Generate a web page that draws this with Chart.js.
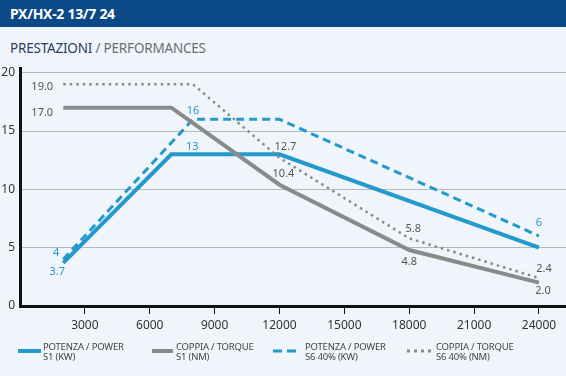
<!DOCTYPE html>
<html lang="it">
<head>
  <meta charset="UTF-8">
  <title>PX/HX-2 13/7 24</title>
  <script src="https://cdn.jsdelivr.net/npm/chart.js"></script>
  <style>
    body { margin: 0; width: 566px; height: 376px; background: #f0f5fb; font-family: "Noto Sans", sans-serif; position: relative; overflow: hidden; }
    #header { position: absolute; left: 0; top: 0; width: 566px; height: 27px; background: #0b4a86; color: #fff; font-weight: bold; font-size: 14px; line-height: 27px; padding-left: 10px; box-sizing: border-box; letter-spacing: -0.3px; }
    #sub { position: absolute; left: 10px; top: 39px; font-size: 13.5px; color: #2a3f5f; letter-spacing: -0.2px; }
    #sub span { color: #6b6e72; }
    #wrap { position: absolute; left: 0; top: 0; width: 566px; height: 376px; }
    .leg { position: absolute; top: 342px; font-size: 9.5px; line-height: 10px; color: #444; letter-spacing: -0.2px; }
    .leg svg { position: absolute; top: 6px; }
  </style>
</head>
<body>
  <div id="header">PX/HX-2 13/7 24</div>
  <div id="sub">PRESTAZIONI <span>/ PERFORMANCES</span></div>
  <div id="wrap"><canvas id="chart" width="566" height="376"></canvas></div>

  <div class="leg" style="left:18px"><svg width="23" height="6" style="left:0"><line x1="0" y1="3" x2="23" y2="3" stroke="#2399cc" stroke-width="4"/></svg><div style="margin-left:25px">POTENZA / POWER<br>S1 (KW)</div></div>
  <div class="leg" style="left:152px"><svg width="21" height="6" style="left:0"><line x1="0" y1="3" x2="21" y2="3" stroke="#8a8a8a" stroke-width="4"/></svg><div style="margin-left:24px">COPPIA / TORQUE<br>S1 (NM)</div></div>
  <div class="leg" style="left:273px"><svg width="23" height="6" style="left:0"><line x1="0" y1="3" x2="23" y2="3" stroke="#2399cc" stroke-width="3" stroke-dasharray="9,5"/></svg><div style="margin-left:32px">POTENZA / POWER<br>S6 40% (KW)</div></div>
  <div class="leg" style="left:407px"><svg width="26" height="6" style="left:0"><line x1="0" y1="3" x2="26" y2="3" stroke="#8a8a8a" stroke-width="3" stroke-dasharray="3,4"/></svg><div style="margin-left:29px">COPPIA / TORQUE<br>S6 40% (NM)</div></div>

  <script>
    // dati
    const rpmS1Power = [2000, 7000, 12000, 24000];
    const powerS1 = [3.7, 13, 13, 5];
    const powerS1Labels = ['3.7', '13', '', ''];

    const rpmS1Torque = [2000, 7000, 12000, 18000, 24000];
    const torqueS1 = [17.0, 17.0, 10.4, 4.8, 2.0];
    const torqueS1Labels = ['17.0', '', '10.4', '4.8', '2.0'];

    const rpmS6Power = [2000, 8000, 12000, 24000];
    const powerS6 = [4, 16, 16, 6];
    const powerS6Labels = ['4', '16', '', '6'];

    const rpmS6Torque = [2000, 8000, 12000, 18000, 24000];
    const torqueS6 = [19.0, 19.0, 12.7, 5.8, 2.4];
    const torqueS6Labels = ['19.0', '', '12.7', '5.8', '2.4'];

    const xTicks = [3000, 6000, 9000, 12000, 15000, 18000, 21000, 24000];
    const yTicks = [0, 5, 10, 15, 20];

    const BLUE = '#2399cc';
    const GRAY = '#8a8a8a';

    function pts(xs, ys) {
      return xs.map((x, i) => ({ x: x, y: ys[i] }));
    }

    // etichette dei valori vicino ai punti
    const pointLabels = {
      id: 'pointLabels',
      afterDatasetsDraw(chart) {
        const ctx = chart.ctx;
        ctx.save();
        ctx.font = '11px "Noto Sans", sans-serif';
        ctx.textAlign = 'center';
        ctx.textBaseline = 'middle';
        chart.data.datasets.forEach((ds, i) => {
          const meta = chart.getDatasetMeta(i);
          ctx.fillStyle = ds.labelColor;
          ds.labels.forEach((txt, j) => {
            if (!txt) return;
            const p = meta.data[j];
            const off = ds.labelOffsets[j];
            ctx.fillText(txt, p.x + off[0], p.y + off[1]);
          });
        });
        ctx.restore();
      }
    };

    const config = {
      type: 'line',
      data: {
        datasets: [
          {
            data: pts(rpmS6Torque, torqueS6),
            labels: torqueS6Labels,
            labelColor: '#555',
            labelOffsets: [[-21, 3], [0, 0], [6, -11], [4, -9], [5, -9]],
            borderColor: GRAY, borderWidth: 2.5, borderDash: [2.5, 4],
            pointRadius: 0, tension: 0
          },
          {
            data: pts(rpmS1Torque, torqueS1),
            labels: torqueS1Labels,
            labelColor: '#555',
            labelOffsets: [[-21, 5], [0, 0], [4, -11], [0, 12], [4, 8]],
            borderColor: GRAY, borderWidth: 4,
            pointRadius: 0, tension: 0
          },
          {
            data: pts(rpmS6Power, powerS6),
            labels: powerS6Labels,
            labelColor: BLUE,
            labelOffsets: [[-7, -6], [0, -8], [0, 0], [0, -13]],
            borderColor: BLUE, borderWidth: 3, borderDash: [8, 5],
            pointRadius: 0, tension: 0
          },
          {
            data: pts(rpmS1Power, powerS1),
            labels: powerS1Labels,
            labelColor: BLUE,
            labelOffsets: [[-6, 9], [21, -7], [0, 0], [0, 0]],
            borderColor: BLUE, borderWidth: 4,
            pointRadius: 0, tension: 0
          }
        ]
      },
      options: {
        responsive: false,
        animation: false,
        layout: { padding: { top: 68, bottom: 36, left: 0, right: 0 } },
        plugins: {
          legend: { display: false },
          tooltip: { enabled: false }
        },
        scales: {
          x: {
            type: 'linear',
            min: 0,
            max: 25250,
            afterBuildTicks: s => { s.ticks = xTicks.map(v => ({ value: v })); },
            afterFit: s => { s.height = 34; },
            grid: { drawOnChartArea: false, drawTicks: true, tickLength: 8, tickColor: '#111', tickWidth: 1 },
            border: { display: true, color: '#111', width: 3 },
            ticks: { color: '#333', padding: 4, font: { size: 12, family: '"Noto Sans", sans-serif' }, maxRotation: 0, callback: v => String(v) }
          },
          y: {
            min: 0,
            max: 20.4,
            afterBuildTicks: s => { s.ticks = yTicks.map(v => ({ value: v })); },
            afterFit: s => { s.width = 20; },
            grid: { color: '#b5b8bc', lineWidth: 1, drawTicks: false },
            border: { display: true, color: '#111', width: 3 },
            ticks: { color: '#333', padding: 5, font: { size: 12, family: '"Noto Sans", sans-serif' } }
          }
        }
      },
      plugins: [pointLabels]
    };

    new Chart(document.getElementById('chart'), config);
  </script>
</body>
</html>
